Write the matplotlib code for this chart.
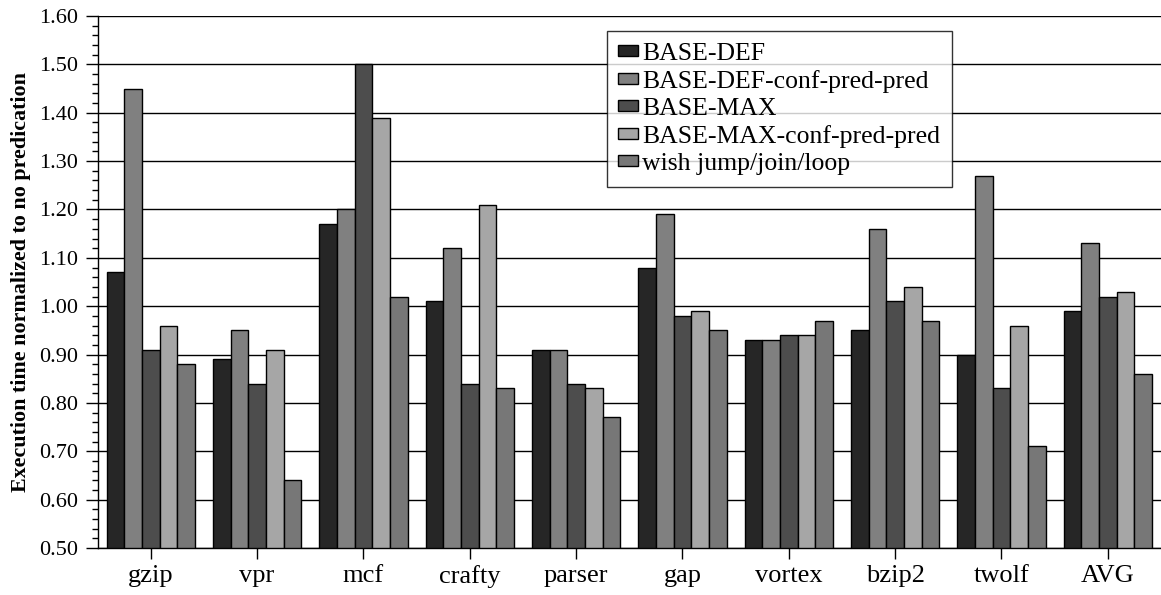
import matplotlib
matplotlib.use("Agg")
import matplotlib.pyplot as plt
import numpy as np
from matplotlib.ticker import MultipleLocator, FormatStrFormatter

categories = ["gzip", "vpr", "mcf", "crafty", "parser", "gap", "vortex", "bzip2", "twolf", "AVG"]
series_names = ["BASE-DEF", "BASE-DEF-conf-pred-pred", "BASE-MAX", "BASE-MAX-conf-pred-pred", "wish jump/join/loop"]
base_def = [1.07, 0.89, 1.17, 1.01, 0.91, 1.08, 0.93, 0.95, 0.90, 0.99]
base_def_conf = [1.45, 0.95, 1.20, 1.12, 0.91, 1.19, 0.93, 1.16, 1.27, 1.13]
base_max = [0.91, 0.84, 1.50, 0.84, 0.84, 0.98, 0.94, 1.01, 0.83, 1.02]
base_max_conf = [0.96, 0.91, 1.39, 1.21, 0.83, 0.99, 0.94, 1.04, 0.96, 1.03]
wish = [0.88, 0.64, 1.02, 0.83, 0.77, 0.95, 0.97, 0.97, 0.71, 0.86]
colors = ["#262626", "#808080", "#4d4d4d", "#a6a6a6", "#777777"]

plt.rcParams['font.family'] = ['Liberation Serif', 'DejaVu Serif']

fig = plt.figure(figsize=(11.61, 5.95), dpi=100)
ax = fig.add_axes([0.084, 0.079, 0.916, 0.894])

series = [base_def, base_def_conf, base_max, base_max_conf, wish]
x = np.arange(len(categories))
w = 0.166
for i, (vals, name, c) in enumerate(zip(series, series_names, colors)):
    ax.bar(x + (i - 2) * w, np.array(vals) - 0.5, width=w, bottom=0.5, color=c,
           edgecolor="black", linewidth=1.0, label=name, zorder=3)

ax.set_ylim(0.5, 1.6)
ax.set_xlim(-0.5, len(categories) - 0.5)
ax.yaxis.set_major_locator(MultipleLocator(0.1))
ax.yaxis.set_minor_locator(MultipleLocator(0.02))
ax.yaxis.set_major_formatter(FormatStrFormatter('%.2f'))
ax.grid(axis='y', which='major', color='black', linewidth=1.0, zorder=0)
ax.set_axisbelow(True)
for s in ['top', 'right']:
    ax.spines[s].set_visible(False)
ax.spines['left'].set_linewidth(1.0)
ax.spines['bottom'].set_linewidth(1.0)
ax.tick_params(axis='y', which='major', length=9, width=1, labelsize=16, direction='out', pad=5)
ax.tick_params(axis='y', which='minor', length=4, width=1, direction='out')
ax.tick_params(axis='x', length=8, width=1, labelsize=19, pad=4, direction='out')
ax.set_xticks(x)
ax.set_xticklabels(categories)
ax.set_ylabel("Execution time normalized to no predication", fontsize=15.8, fontweight='bold', labelpad=6)

leg = ax.legend(loc='upper left', bbox_to_anchor=(0.479, 0.972), fontsize=18.5, frameon=True,
                fancybox=False, edgecolor='black', handlelength=0.75, handleheight=0.3,
                handletextpad=0.17, borderpad=0.45, labelspacing=0.2, borderaxespad=0)
leg.get_frame().set_linewidth(1.0)

fig.savefig("out.png", dpi=100)
